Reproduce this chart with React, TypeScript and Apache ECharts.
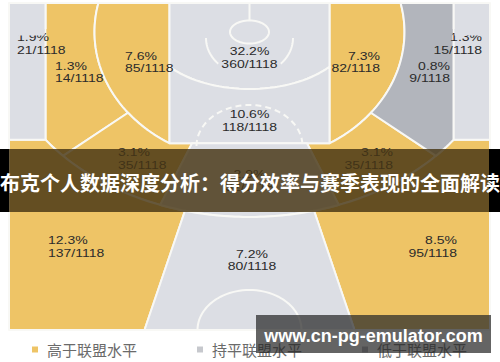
import React, { useEffect, useRef } from "react";
import * as echarts from "echarts";

// ---------- data ----------
const TOTAL_SHOTS = 1118;
const zoneNames = [
  "左侧底角三分", "左侧底线中投", "左侧近距离", "限制区", "油漆区",
  "右侧近距离", "右侧底线中投", "右侧底角三分", "左侧中投", "正面中投",
  "右侧中投", "左侧45度三分", "正面三分", "右侧45度三分",
];
const zoneShots = [21, 14, 85, 360, 118, 82, 9, 15, 35, 32, 35, 137, 80, 95];
// 0 = 高于, 1 = 持平, 2 = 低于
const zoneLevel = [1, 0, 0, 1, 1, 0, 2, 1, 0, 1, 0, 0, 1, 0];
const levelNames = ["高于联盟水平", "持平联盟水平", "低于联盟水平"];
const titleText = "布克个人数据深度分析：得分效率与赛季表现的全面解读";
const watermarkText = "www.cn-pg-emulator.com";

// ---------- styles ----------
const levelColors = ["#EEC466", "#DCDEE4", "#B2B5BC"];
const legendColors = ["#EEC466", "#C6C8CD", "#B2B5BC"];
const LINE = "#F8F8F5";

// ---------- court geometry (data space = pixel space of the hidden axes) ----------
type P = [number, number];
const R = Math.PI / 180;
const BX = 249.5, BY = 32;
const TOP = 3, BOTTOM = 330, LEFT = 9;
const PAINT_HALF = 80, CORNER_HALF = 204;
type E = { a: number; b: number; cx?: number; cy?: number };
const E1: E = { a: 155, b: 130 };
const E2: E = { a: 251, b: 185 };
const E3: E = { a: 101, b: 57 };

const ep = (e: E, t: number): P => [
  (e.cx ?? BX) + e.a * Math.cos(t * R),
  (e.cy ?? BY) + e.b * Math.sin(t * R),
];
const arcPts = (e: E, t0: number, t1: number, n = 36): P[] => {
  const out: P[] = [];
  for (let i = 0; i <= n; i++) out.push(ep(e, t0 + ((t1 - t0) * i) / n));
  return out;
};
const mirror = (pts: P[]): P[] => pts.map(([x, y]) => [2 * BX - x, y] as P);
const toE2 = (p: P): [P, number] => {
  const dx = p[0] - BX, dy = p[1] - BY;
  const s = 1 / Math.sqrt((dx / E2.a) ** 2 + (dy / E2.b) ** 2);
  const q: P = [BX + dx * s, BY + dy * s];
  return [q, Math.atan2((q[1] - BY) / E2.b, (q[0] - BX) / E2.a) / R];
};

const tE1Top = 180 + Math.asin((BY - TOP) / E1.b) / R;
const tE1Paint = Math.acos(-PAINT_HALF / E1.a) / R;
const FT_Y = BY + E1.b * Math.sin(tE1Paint * R);
const tE1J = 141.6;
const [, tJ2] = toE2(ep(E1, tE1J));
const tE2Corner = Math.acos(-CORNER_HALF / E2.a) / R;
const CORNER_Y = BY + E2.b * Math.sin(tE2Corner * R);
const MID_DIV_X = 192;
const [, tM2] = toE2([MID_DIV_X, FT_Y]);
const tTop3 = 104.9;
const TOP3_BOTTOM_X = 144.5;
const tE3 = Math.acos(PAINT_HALF / E3.a) / R;

const z0: P[] = [[LEFT, TOP], [BX - CORNER_HALF, TOP], [BX - CORNER_HALF, CORNER_Y], [LEFT, CORNER_Y]];
const z1: P[] = [[BX - CORNER_HALF, TOP], ...arcPts(E1, tE1Top, tE1J), ...arcPts(E2, tJ2, tE2Corner)];
const z2: P[] = [[BX - PAINT_HALF, TOP], [BX - PAINT_HALF, FT_Y], ...arcPts(E1, tE1Paint, tE1Top)];
const z3: P[] = [[BX - PAINT_HALF, TOP], [BX + PAINT_HALF, TOP], ...arcPts(E3, tE3, 180 - tE3)];
const z4: P[] = [...arcPts(E3, 180 - tE3, tE3), [BX + PAINT_HALF, FT_Y], [BX - PAINT_HALF, FT_Y]];
const z8: P[] = [...arcPts(E1, tE1J, tE1Paint), [MID_DIV_X, FT_Y], ...arcPts(E2, tM2, tJ2)];
const z9: P[] = [[MID_DIV_X, FT_Y], [2 * BX - MID_DIV_X, FT_Y], ...arcPts(E2, 180 - tM2, tM2)];
const z11: P[] = [[LEFT, CORNER_Y], ...arcPts(E2, tE2Corner, tTop3), [TOP3_BOTTOM_X, BOTTOM], [LEFT, BOTTOM]];
const z12: P[] = [...arcPts(E2, tTop3, 180 - tTop3), [2 * BX - TOP3_BOTTOM_X, BOTTOM], [TOP3_BOTTOM_X, BOTTOM]];
const zoneShapes: P[][] = [
  z0, z1, z2, z3, z4, mirror(z2), mirror(z1), mirror(z0),
  z8, z9, mirror(z8), z11, z12, mirror(z11),
];

// label anchor: x, y (centre of two lines), alignment
const labelPos: [number, number, string][] = [
  [17, 44, "left"], [55, 72.5, "left"], [125, 62.5, "left"], [249.5, 58, "center"],
  [249.5, 121, "center"], [380, 62.5, "right"], [450, 72.5, "right"], [482, 44, "right"],
  [118, 159, "left"], [249.5, 181, "center"], [393, 159, "right"], [48, 247, "left"],
  [252, 260.5, "center"], [457, 247, "right"],
];
const LINE_GAP = 6.3;
const TEXT_SCALE_Y = 0.77;
// the top of the two corner labels is hidden in the reference picture:
// [x0, x1, zone whose colour covers it]
const labelCovers: [number, number, number][] = [
  [10, 44.5, 0], [46.5, 53, 1], [454.5, 489, 7], [444, 452.5, 6],
];
const COVER_Y0 = 29, COVER_Y1 = 35.5;

function buildOption() {
  const zoneSeries = levelNames.map((name, lv) => ({
    name,
    type: "custom",
    coordinateSystem: "cartesian2d",
    silent: true,
    clip: false,
    z: 2,
    itemStyle: { color: levelColors[lv] },
    data: zoneShots.map((_, i) => i).filter((i) => zoneLevel[i] === lv).map((i) => [i, 0]),
    renderItem: (_p: any, api: any) => {
      const idx = api.value(0) as number;
      const pts = zoneShapes[idx].map((p) => api.coord(p));
      return {
        type: "polygon",
        shape: { points: pts },
        style: { fill: levelColors[zoneLevel[idx]], stroke: LINE, lineWidth: 2, lineJoin: "round" },
      };
    },
  }));

  const courtSeries = {
    name: "court",
    type: "custom",
    coordinateSystem: "cartesian2d",
    silent: true,
    clip: false,
    z: 3,
    data: [[0, 0]],
    renderItem: (_p: any, api: any) => {
      const line = (pts: P[], extra: any = {}) => ({
        type: "polyline",
        shape: { points: pts.map((p) => api.coord(p)) },
        style: { stroke: LINE, lineWidth: 2, fill: null, ...extra },
      });
      const basket: E = { a: 19.5, b: 11.5, cx: BX, cy: BY };
      const ra: E = { a: 43.5, b: 37, cx: BX, cy: 38 };
      const ft: E = { a: 53, b: 41, cx: BX, cy: 146 };
      const center: E = { a: 52, b: 40, cx: BX, cy: BOTTOM };
      return {
        type: "group",
        children: [
          line(arcPts(basket, 0, 360, 60)),
          line([[BX, TOP], [BX, BY - basket.b]]),
          line(arcPts(ra, 180, 136, 16)),
          line(arcPts(ra, 44, 0, 16)),
          line(arcPts(ft, 180, 360, 48), { lineDash: [6, 4] }),
          line(arcPts(center, 180, 360, 48)),
        ],
      };
    },
  };

  const textEl = (x: number, y: number, text: string, align: string) => ({
    type: "text",
    x,
    y,
    scaleY: TEXT_SCALE_Y,
    style: {
      text,
      font: '14px "Liberation Sans", Arial, sans-serif',
      fill: "#2B2B2B",
      align,
      verticalAlign: "middle",
    },
  });

  const labelSeries = {
    name: "labels",
    type: "custom",
    coordinateSystem: "cartesian2d",
    silent: true,
    clip: false,
    z: 5,
    data: zoneShots.map((_, i) => [i, 0]),
    renderItem: (_p: any, api: any) => {
      const idx = api.value(0) as number;
      const [x, y, align] = labelPos[idx];
      const a = api.coord([x, y - LINE_GAP]);
      const b = api.coord([x, y + LINE_GAP]);
      const n = zoneShots[idx];
      return {
        type: "group",
        children: [
          textEl(a[0], a[1], `${((n / TOTAL_SHOTS) * 100).toFixed(1)}%`, align),
          textEl(b[0], b[1], `${n}/${TOTAL_SHOTS}`, align),
        ],
      };
    },
  };

  const coverSeries = {
    name: "covers",
    type: "custom",
    coordinateSystem: "cartesian2d",
    silent: true,
    clip: false,
    z: 6,
    data: labelCovers.map((_, i) => [i, 0]),
    renderItem: (_p: any, api: any) => {
      const [x0, x1, zone] = labelCovers[api.value(0) as number];
      const p0 = api.coord([x0, COVER_Y0]);
      const p1 = api.coord([x1, COVER_Y1]);
      return {
        type: "rect",
        shape: { x: p0[0], y: p0[1], width: p1[0] - p0[0], height: p1[1] - p0[1] },
        style: { fill: levelColors[zoneLevel[zone]] },
      };
    },
  };

  return {
    animation: false,
    backgroundColor: "#FFFFFF",
    grid: { left: 0, right: 0, top: 0, bottom: 0 },
    xAxis: { type: "value", min: 0, max: 500, show: false },
    yAxis: { type: "value", min: 0, max: 362, inverse: true, show: false },
    legend: {
      left: 32,
      top: 342,
      padding: 0,
      icon: "rect",
      itemWidth: 6,
      itemHeight: 6,
      itemGap: 60,
      selectedMode: false,
      textStyle: {
        fontSize: 15,
        color: "#6A6A6A",
        fontFamily: '"Noto Sans CJK SC", sans-serif',
        padding: [0, 0, 0, 4],
      },
      data: levelNames.map((name, i) => ({ name, itemStyle: { color: legendColors[i] } })),
    },
    series: [...zoneSeries, courtSeries, labelSeries, coverSeries],
    graphic: [
      { type: "rect", z: 100, shape: { x: 0, y: 149, width: 9, height: 63 }, style: { fill: "#000" } },
      { type: "rect", z: 100, shape: { x: 489, y: 149, width: 11, height: 63 }, style: { fill: "#000" } },
      { type: "rect", z: 100, shape: { x: 9, y: 149, width: 480, height: 63 }, style: { fill: "rgba(70,52,20,0.82)" } },
      {
        type: "text", z: 101, x: 250, y: 182,
        style: {
          text: titleText, fill: "#FFFFFF",
          font: 'bold 20px "Noto Sans CJK SC", sans-serif',
          align: "center", verticalAlign: "middle",
        },
      },
      { type: "rect", z: 100, shape: { x: 256, y: 315, width: 235, height: 38 }, style: { fill: "rgba(40,40,40,0.72)" } },
      {
        type: "text", z: 101, x: 373.5, y: 336,
        style: {
          text: watermarkText, fill: "#FFFFFF",
          font: 'bold 18px "Liberation Sans", Arial, sans-serif',
          align: "center", verticalAlign: "middle",
        },
      },
    ],
  };
}

export default function App() {
  const ref = useRef<HTMLDivElement>(null);
  useEffect(() => {
    if (!ref.current) return;
    const chart = echarts.init(ref.current, null, { renderer: "svg" });
    chart.setOption(buildOption() as any);
    return () => chart.dispose();
  }, []);
  return (
    <div
      ref={ref}
      style={{ position: "fixed", left: 0, top: 0, width: 500, height: 362, background: "#fff" }}
    />
  );
}
